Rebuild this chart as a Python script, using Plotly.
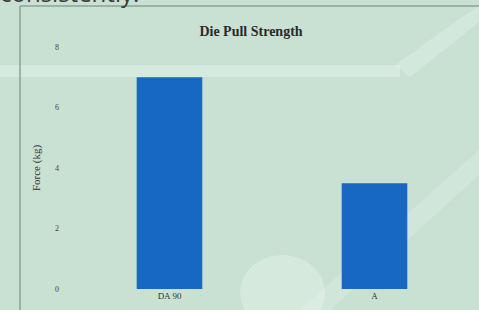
import plotly.graph_objects as go

categories = ["DA 90", "A"]
force_kg = [7.0, 3.5]
y_ticks = [0, 2, 4, 6, 8]

W, H = 479, 310
L, R, T, B = 67, 2, 47, 21
pw, ph = W - L - R, H - T - B

def px(x):
    return (x - L) / pw

def py(y):
    return (H - B - y) / ph

fig = go.Figure()
fig.add_trace(go.Bar(
    x=categories, y=force_kg,
    marker=dict(color="#1668c2", line=dict(width=0)),
    width=0.32,
))

shapes = [
    dict(type="rect", xref="paper", yref="paper", x0=px(0), x1=px(400), y0=py(77), y1=py(65),
         fillcolor="rgba(240,250,245,0.35)", line=dict(width=0), layer="below"),
    dict(type="path", xref="paper", yref="paper",
         path=f"M {px(395)} {py(65)} L {px(479)} {py(5)} L {px(479)} {py(22)} L {px(410)} {py(77)} Z",
         fillcolor="rgba(240,250,245,0.3)", line=dict(width=0), layer="below"),
    dict(type="path", xref="paper", yref="paper",
         path=f"M {px(300)} {py(310)} L {px(479)} {py(150)} L {px(479)} {py(175)} L {px(330)} {py(310)} Z",
         fillcolor="rgba(240,250,245,0.22)", line=dict(width=0), layer="below"),
    dict(type="circle", xref="paper", yref="paper", x0=px(240), x1=px(325), y0=py(330), y1=py(255),
         fillcolor="rgba(245,252,248,0.3)", line=dict(width=0), layer="below"),
    dict(type="line", xref="paper", yref="paper", x0=px(20), x1=px(479), y0=py(6), y1=py(6),
         line=dict(color="#8aa396", width=1.5)),
    dict(type="line", xref="paper", yref="paper", x0=px(20), x1=px(20), y0=py(6), y1=py(310),
         line=dict(color="#8aa396", width=1.5)),
]

fig.update_layout(
    width=W, height=H,
    margin=dict(l=L, r=R, t=T, b=B),
    paper_bgcolor="#c8e1d2",
    plot_bgcolor="rgba(0,0,0,0)",
    showlegend=False,
    font=dict(family="Liberation Serif", color="#333333"),
    title=dict(text="<b>Die Pull Strength</b>", x=251 / W, xanchor="center",
               y=1 - 31 / H, yanchor="middle",
               font=dict(family="Liberation Serif", size=14, color="#2a2a2a")),
    xaxis=dict(showgrid=False, zeroline=False, showline=False,
               tickfont=dict(size=9, color="#333333"), ticks="", ticklen=0),
    yaxis=dict(range=[0, 8], tickvals=y_ticks, showgrid=False, zeroline=False,
               showline=False, ticks="", ticklabelstandoff=7,
               tickfont=dict(size=8, color="#444444"),
               title=dict(text="Force (kg)", font=dict(size=11, color="#333333"), standoff=12)),
    shapes=shapes,
    annotations=[
        dict(text="consistently.", xref="paper", yref="paper", x=px(-2), y=py(11),
             xanchor="left", yanchor="bottom", showarrow=False,
             font=dict(family="Open Sans", size=24, color="#3a3a3a")),
    ],
)

fig.write_html("out.html", config={"displayModeBar": False},
               post_script="document.body.style.margin='0';document.documentElement.style.margin='0';")
